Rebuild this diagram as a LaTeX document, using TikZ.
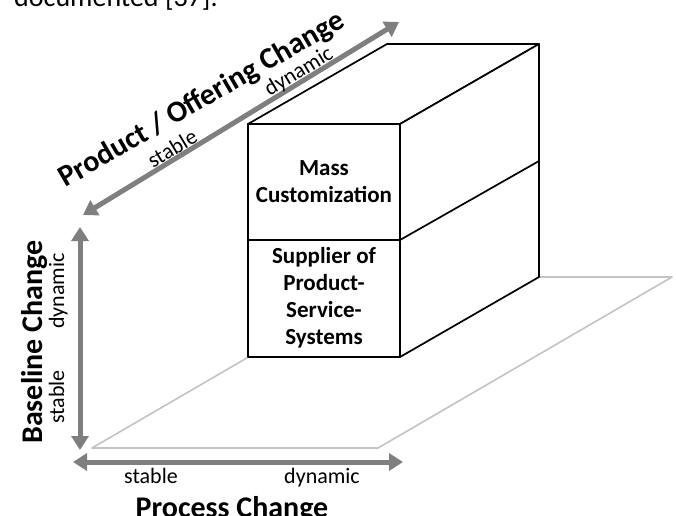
\documentclass[tikz,border=0pt]{standalone}
\usepackage{fontspec}
\setmainfont{Carlito}
\usetikzlibrary{arrows.meta}
\definecolor{axisgray}{RGB}{127,127,127}
\definecolor{floorgray}{RGB}{195,195,195}
\tikzset{
  axisline/.style={draw=axisgray,line width=5pt,{Triangle[length=14pt,width=17pt]}-{Triangle[length=14pt,width=17pt]}},
  floorline/.style={draw=floorgray,line width=1.6pt,line join=round},
  cubeline/.style={draw=black,line width=1.7pt,line join=round},
  small/.style={font=\fontsize{22}{26}\selectfont,inner sep=0pt},
  axistitle/.style={font=\fontsize{30}{36}\selectfont\bfseries,inner sep=0pt},
  boxtext/.style={font=\fontsize{23}{27}\selectfont\bfseries,align=center}
}
\begin{document}
\begin{tikzpicture}[line cap=butt,x=1pt,y=-1pt]
            \clip (0,0) rectangle (676,515);
            % text of the page above the figure
            \node[anchor=base west,inner sep=0pt,font=\fontsize{28}{32}\selectfont] (above) at (14,6) {documented [37].};
            % floor
            \coordinate (f1) at (92,448);
            \coordinate (f2) at (378,448);
            \coordinate (f3) at (672,277);
            \coordinate (f4) at (386,277);
            \draw[floorline] (f1) -- (f2) -- (f3) -- (f4) -- cycle;
            % block
            \coordinate (ftl) at (248,124);
            \coordinate (ftr) at (400,124);
            \coordinate (fml) at (248,240);
            \coordinate (fmr) at (400,240);
            \coordinate (fbl) at (248,357);
            \coordinate (fbr) at (400,357);
            \coordinate (btl) at (387,44);
            \coordinate (btr) at (539,44);
            \coordinate (bmr) at (539,161);
            \coordinate (bbr) at (539,277);
            \draw[cubeline,fill=white] (ftl) -- (btl) -- (btr) -- (ftr) -- cycle;
            \draw[cubeline,fill=white] (ftr) -- (btr) -- (bbr) -- (fbr) -- cycle;
            \draw[cubeline,fill=white] (ftl) -- (ftr) -- (fbr) -- (fbl) -- cycle;
            \draw[cubeline] (fml) -- (fmr) -- (bmr);
            \node[boxtext] (mass) at (324,182) {Mass\\Customization};
            \node[boxtext] (pss) at (324,298) {Supplier of\\Product-\\Service-\\Systems};
            % axes
            \coordinate (po1) at (83,215);
            \coordinate (po2) at (399,22);
            \coordinate (bl1) at (80,450);
            \coordinate (bl2) at (80,227);
            \coordinate (pr1) at (73,462);
            \coordinate (pr2) at (403,462);
            \draw[axisline] (po1) -- (po2);
            \draw[axisline] (bl1) -- (bl2);
            \draw[axisline] (pr1) -- (pr2);
            % axis labels
            \node[axistitle,anchor=base,rotate=30] (potitle) at (206,107) {Product / Offering Change};
            \node[small,anchor=base,rotate=31] (postable) at (176,155) {stable};
            \node[small,anchor=base,rotate=31] (podynamic) at (302,77) {dynamic};
            \node[axistitle,anchor=base,rotate=90] (bltitle) at (42,342) {Baseline Change};
            \node[small,anchor=base,rotate=90] (bldynamic) at (64,291) {dynamic};
            \node[small,anchor=base,rotate=90] (blstable) at (64,397) {stable};
            \node[axistitle,anchor=base] (prtitle) at (232,517) {Process Change};
            \node[small,anchor=base] (prstable) at (151,483) {stable};
            \node[small,anchor=base] (prdynamic) at (322,483) {dynamic};
\end{tikzpicture}
\end{document}
